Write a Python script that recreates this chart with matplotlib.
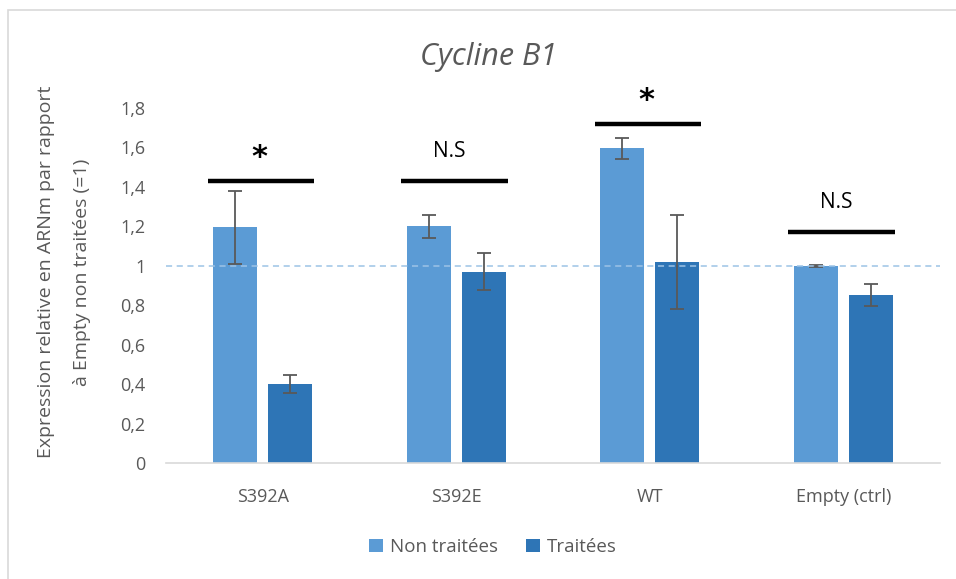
import matplotlib
matplotlib.use("Agg")
import matplotlib.pyplot as plt
import numpy as np
from matplotlib.patches import Rectangle

# values
groups = ["S392A", "S392E", "WT", "Empty (ctrl)"]
non_traitees = [1.195, 1.20, 1.595, 1.0]
non_traitees_err = [0.185, 0.057, 0.053, 0.004]
traitees = [0.40, 0.97, 1.02, 0.85]
traitees_err = [0.045, 0.094, 0.24, 0.056]

sig_labels = ["*", "N.S", "*", "N.S"]
sig_line_y = [1.43, 1.43, 1.72, 1.17]

plt.rcParams["font.family"] = ["Open Sans", "DejaVu Sans"]
text_gray = "#595959"
c_non = "#5B9BD5"
c_trt = "#2E75B6"

fig = plt.figure(figsize=(9.56, 5.79), dpi=100)
W, H = 956, 579
ax = fig.add_axes([166 / W, 1 - 463 / H, (940 - 166) / W, (463 - 108) / H])

# chart-area outline (only top/left edges fall inside the image)
fig.patches.append(Rectangle((8 / W, -0.1), 1.2, 1 - 10 / H + 0.1, transform=fig.transFigure,
                             fill=False, edgecolor="#D9D9D9", linewidth=1.2))

x = np.arange(len(groups))
bw = 0.227
off = 0.142
err_kw = dict(ecolor="#595959", elinewidth=1.3, capsize=4.8, capthick=1.3)
ax.bar(x - off, non_traitees, bw, yerr=non_traitees_err, color=c_non, label="Non traitées",
       error_kw=err_kw, zorder=2)
ax.bar(x + off, traitees, bw, yerr=traitees_err, color=c_trt, label="Traitées",
       error_kw=err_kw, zorder=2)

ax.axhline(1.0, color="#9DC3E6", linestyle=(0, (4, 3)), linewidth=1.1, zorder=3)

for i, (lab, ly) in enumerate(zip(sig_labels, sig_line_y)):
    ax.plot([i - 0.285, i + 0.265], [ly, ly], color="black", linewidth=3.2,
            solid_capstyle="butt", clip_on=False, zorder=4)
    if lab == "*":
        ax.text(i - 0.015, ly + 0.12, lab, ha="center", va="center", fontsize=22,
                fontweight="bold", family="DejaVu Sans", clip_on=False)
    else:
        ax.text(i - 0.035, ly + 0.15, lab, ha="center", va="center", fontsize=15,
                color="black", clip_on=False)

ax.set_xlim(-0.5, len(groups) - 0.5)
ax.set_ylim(0, 1.8)
ax.set_yticks(np.arange(0, 1.81, 0.2))
ax.set_yticklabels(["0" if v == 0 else ("1" if abs(v - 1) < 1e-9 else f"{v:.1f}".replace(".", ","))
                    for v in np.arange(0, 1.81, 0.2)])
ax.set_xticks(x)
ax.set_xticklabels(groups)
ax.tick_params(axis="both", length=0, labelsize=13, colors=text_gray)
ax.tick_params(axis="y", pad=15)
ax.tick_params(axis="x", pad=18)
for side in ["top", "right", "left"]:
    ax.spines[side].set_visible(False)
ax.spines["bottom"].set_color("#D9D9D9")
ax.spines["bottom"].set_linewidth(1.2)

fig.text(46 / W, 1 - 272 / H, "Expression relative en ARNm par rapport", rotation=90,
         ha="center", va="center", fontsize=14, color=text_gray)
fig.text(82 / W, 1 - 272 / H, "à Empty non traitées (=1)", rotation=90,
         ha="center", va="center", fontsize=14, color=text_gray)

fig.text(488 / W, 1 - 57 / H, "Cycline B1", ha="center", va="center", fontsize=22,
         style="italic", color=text_gray)

fig.legend(loc="center", bbox_to_anchor=(493 / W, 1 - 547 / H), ncol=2, frameon=False,
           fontsize=13.5, labelcolor=text_gray, handlelength=0.75, handleheight=0.75,
           handletextpad=0.35, columnspacing=1.5)

fig.savefig("out.png", dpi=100, facecolor="white")
